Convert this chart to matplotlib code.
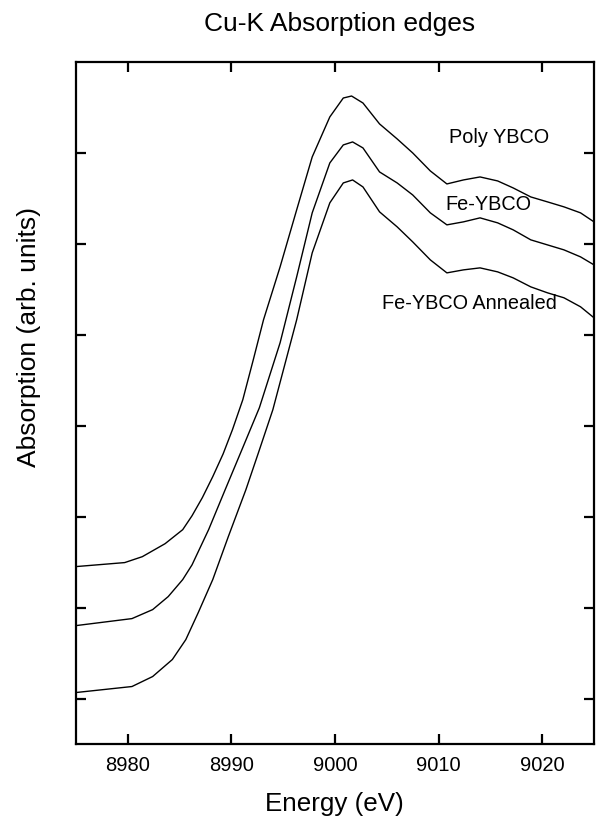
import numpy as np
import matplotlib as mpl
mpl.use('Agg')
import matplotlib.pyplot as plt

plt.rcParams['font.family'] = ['Liberation Sans', 'DejaVu Sans']

# Poly YBCO
poly_e = [8975.0, 8979.7, 8981.4, 8983.6, 8985.3, 8986.2, 8987.2, 8988.2, 8989.2,
          8990.1, 8991.1, 8992.1, 8993.1, 8994.7, 8996.3, 8997.8, 8999.5, 9000.8,
          9001.6, 9002.7, 9004.3, 9006.0, 9007.5, 9009.2, 9010.8, 9012.4, 9014.0,
          9015.7, 9017.2, 9018.9, 9020.5, 9022.1, 9023.7, 9025.0]
poly_a = [1.451, 1.495, 1.560, 1.703, 1.857, 2.010, 2.210, 2.440, 2.690,
          2.956, 3.286, 3.720, 4.165, 4.747, 5.374, 5.956, 6.396, 6.604,
          6.626, 6.549, 6.319, 6.154, 6.000, 5.802, 5.659, 5.703, 5.736,
          5.692, 5.615, 5.516, 5.462, 5.407, 5.341, 5.242]

# Fe-YBCO
fe_e = [8975.0, 8980.4, 8982.4, 8983.9, 8985.3, 8986.2, 8987.8, 8989.4, 8991.1,
        8992.7, 8994.7, 8996.3, 8997.8, 8999.5, 9000.8, 9001.7, 9002.7,
        9004.3, 9006.0, 9007.5, 9009.2, 9010.8, 9012.4, 9014.0, 9015.7, 9017.2,
        9018.9, 9020.5, 9022.1, 9023.7, 9025.0]
fe_a = [0.802, 0.879, 0.978, 1.121, 1.308, 1.470, 1.857, 2.297, 2.760,
        3.198, 3.912, 4.637, 5.341, 5.890, 6.088, 6.121, 6.055,
        5.791, 5.670, 5.538, 5.341, 5.209, 5.242, 5.286, 5.231, 5.154,
        5.044, 4.989, 4.934, 4.857, 4.769]

# Fe-YBCO Annealed
ann_e = [8975.0, 8980.4, 8982.4, 8984.3, 8985.6, 8986.8, 8988.2, 8989.7, 8991.4,
         8992.6, 8994.0, 8996.3, 8997.8, 8999.5, 9000.8, 9001.7, 9002.7, 9004.3,
         9006.0, 9007.5, 9009.2, 9010.8, 9012.4, 9014.0, 9015.7, 9017.2, 9018.9,
         9020.5, 9022.1, 9023.7, 9025.0]
ann_a = [0.066, 0.132, 0.242, 0.429, 0.648, 0.945, 1.308, 1.780, 2.297,
         2.700, 3.176, 4.165, 4.901, 5.451, 5.670, 5.703, 5.626, 5.352,
         5.187, 5.022, 4.824, 4.681, 4.714, 4.736, 4.692, 4.626, 4.527,
         4.462, 4.407, 4.308, 4.187]

labels = ['Poly YBCO', 'Fe-YBCO', 'Fe-YBCO Annealed']
label_x = [9015.8, 9014.8, 9013.0]
label_y = [6.165, 5.43, 4.34]

xticks = [8980, 8990, 9000, 9010, 9020]


def main():
    fig = plt.figure(figsize=(5.96, 8.19), dpi=100)
    ax = fig.add_axes([76 / 596, 1 - 744 / 819, 518 / 596, 682 / 819])

    for e, a in [(poly_e, poly_a), (fe_e, fe_a), (ann_e, ann_a)]:
        ax.plot(e, a, color='black', lw=1.0, solid_joinstyle='round')

    for t, x, y in zip(labels, label_x, label_y):
        ax.text(x, y, t, ha='center', va='center', fontsize=14.3)

    ax.set_xlim(8975, 9025)
    ax.set_ylim(-0.5, 7.0)
    ax.set_xticks(xticks)
    ax.set_yticks(range(0, 7))
    ax.set_yticklabels([])
    ax.tick_params(direction='in', length=7.5, width=1.6, top=True, right=True,
                   labelsize=14.5, pad=8.5)
    for s in ax.spines.values():
        s.set_linewidth(1.6)

    fig.text(340 / 596, 1 - 24 / 819, 'Cu-K Absorption edges', ha='center',
             va='center', fontsize=19)
    fig.text(334 / 596, 1 - 804 / 819, 'Energy (eV)', ha='center',
             va='center', fontsize=18.7)
    fig.text(29 / 596, 1 - 337 / 819, 'Absorption (arb. units)', ha='center',
             va='center', rotation=90, fontsize=19)

    fig.savefig('out.png', dpi=100)


if __name__ == '__main__':
    main()
